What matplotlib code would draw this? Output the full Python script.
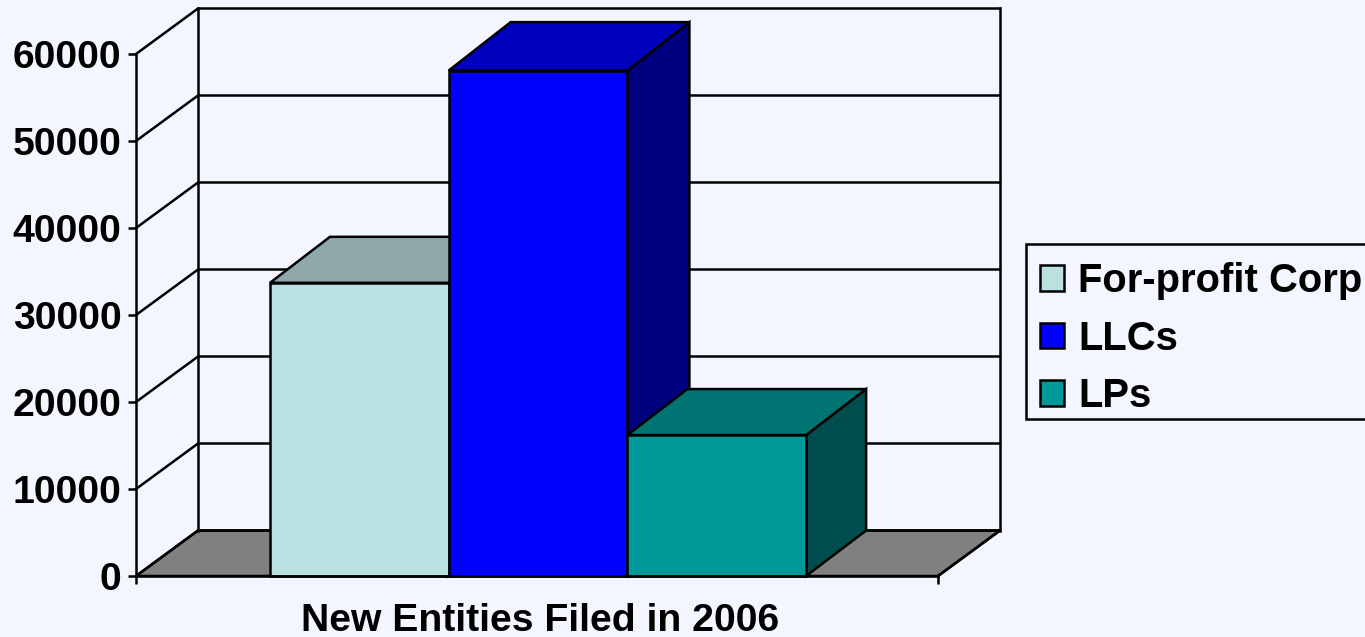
import matplotlib
matplotlib.use("Agg")
import matplotlib.pyplot as plt
from matplotlib.patches import Patch, Rectangle

categories = ["For-profit Corp", "LLCs", "LPs"]
values = [33700, 58100, 16200]
y_ticks = [0, 10000, 20000, 30000, 40000, 50000, 60000]
x_label = "New Entities Filed in 2006"

front_colors = ["#BAE0E2", "#0000FF", "#009999"]
top_colors = ["#8FA8AB", "#0000BF", "#007373"]
side_colors = ["#6B8486", "#00007F", "#004D4D"]
BG = "#F3F6FF"
W, H = 1365, 637

plt.rcParams["font.family"] = ["Liberation Sans", "DejaVu Sans"]
plt.rcParams["font.weight"] = "bold"
plt.rcParams["font.size"] = 28.2

fig = plt.figure(figsize=(W / 100, H / 100), dpi=100, facecolor=BG)
# front plane of the 3d box, in pixels from the picture
left, right, top, bottom = 136, 938, 54, 576
ax = fig.add_axes([left / W, 1 - bottom / H, (right - left) / W, (bottom - top) / H])
ax.set_facecolor("none")

bar_px = 178.7
val_px = (bottom - top) / 60000
ax.set_xlim(0, (right - left) / bar_px)
ax.set_ylim(0, 60000)

# depth of the oblique projection in data units
dx = 62 / bar_px
dy = 45.5 / val_px
x_end = (right - left) / bar_px
lw = 1.8

# the bars don't all have quite the same depth in the original
bar_dx = [d / bar_px for d in [60, 62, 60]]
bar_dy = [d / val_px for d in [46, 48.4, 46]]

# floor
ax.fill([0, dx, x_end + dx, x_end], [0, dy, dy, 0], facecolor="#808080",
        edgecolor="black", lw=lw, clip_on=False, zorder=1)

# walls and gridlines
for t in y_ticks:
    ax.plot([0, dx, x_end + dx], [t, t + dy, t + dy], color="black", lw=lw, clip_on=False, zorder=1.5)
ax.plot([dx, dx], [dy, 60000 + dy], color="black", lw=lw, clip_on=False, zorder=1.5)
ax.plot([x_end + dx, x_end + dx], [dy, 60000 + dy], color="black", lw=lw, clip_on=False, zorder=1.5)
ax.plot([x_end, x_end + dx], [0, dy], color="black", lw=lw, clip_on=False, zorder=1.5)

# bars, front face first then top and side
start = 134 / bar_px
for i, v in enumerate(values):
    x0 = start + i
    x1 = x0 + 1
    z = 3 + i
    ddx, ddy = bar_dx[i], bar_dy[i]
    ax.fill([x1, x1 + ddx, x1 + ddx, x1], [0, 45.5 / val_px, v + ddy, v], facecolor=side_colors[i],
            edgecolor="black", lw=lw, clip_on=False, zorder=z)
    ax.fill([x0, x0 + ddx, x1 + ddx, x1], [v, v + ddy, v + ddy, v], facecolor=top_colors[i],
            edgecolor="black", lw=lw, clip_on=False, zorder=z)
    ax.bar(x0, v, width=1, align="edge", color=front_colors[i], edgecolor="black",
           lw=lw, clip_on=False, zorder=z)

for s in ["top", "right"]:
    ax.spines[s].set_visible(False)
for s in ["left", "bottom"]:
    ax.spines[s].set_linewidth(lw)
    ax.spines[s].set_zorder(10)

ax.set_yticks(y_ticks)
ax.set_xticks([0, x_end])
ax.set_xticklabels([])
ax.tick_params(axis="both", length=6, width=lw, pad=4.5)
ax.set_xlabel(x_label, fontweight="bold", labelpad=9, x=0.504)

# legend box runs off the right edge and has more room on top than below
fig.patches.append(Rectangle((1026 / W, 1 - 418.5 / H), 400 / W, 174.5 / H,
                             transform=fig.transFigure, facecolor=BG, edgecolor="black",
                             lw=lw, zorder=1))
handles = [Patch(facecolor=front_colors[i], edgecolor="black", lw=lw, label=categories[i])
           for i in range(len(categories))]
leg = fig.legend(handles=handles, loc="upper left",
                 bbox_to_anchor=(1040 / W, 1 - 262 / H), borderaxespad=0,
                 handlelength=0.6, handleheight=0.6, handletextpad=0.35,
                 labelspacing=0.49, borderpad=0, frameon=False,
                 prop={"weight": "bold", "size": 28.8})

fig.savefig("out.png", dpi=100, facecolor=BG)
